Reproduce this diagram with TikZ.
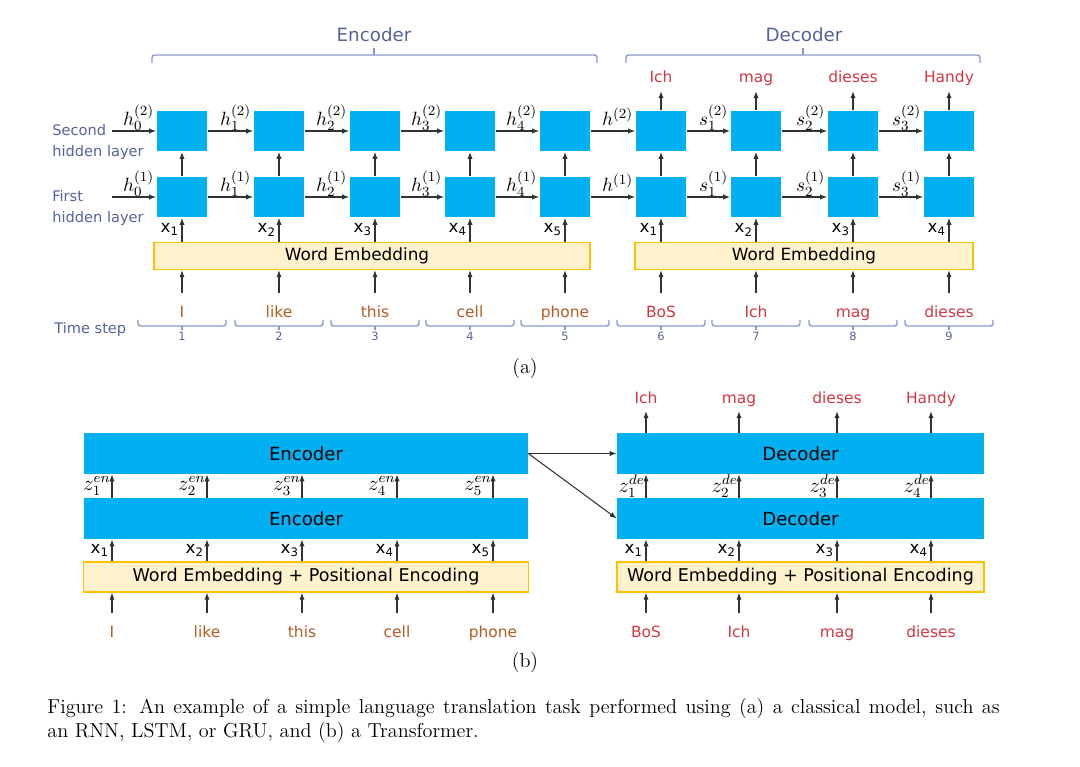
\documentclass[tikz,border=0pt]{standalone}
\usepackage{fontspec}
\newfontfamily\diagfont{DejaVu Sans}
\usetikzlibrary{arrows.meta, calc}

\definecolor{cellblue}{RGB}{0,176,240}
\definecolor{embfill}{RGB}{255,242,204}
\definecolor{embdraw}{RGB}{255,192,0}
\definecolor{slate}{RGB}{86,98,158}
\definecolor{bracecol}{RGB}{140,152,200}
\definecolor{brownw}{RGB}{178,92,32}
\definecolor{redw}{RGB}{210,55,65}
\definecolor{arrgray}{RGB}{50,50,50}

\tikzset{
  cell/.style={fill=cellblue, minimum width=1.02cm, minimum height=0.82cm, inner sep=0},
  wide/.style={fill=cellblue, minimum height=0.82cm, inner sep=0, font=\diagfont\fontsize{10.3}{12}\selectfont},
  embed/.style={fill=embfill, draw=embdraw, line width=0.8pt, inner sep=0, font=\diagfont\fontsize{10}{12}\selectfont},
  embtext/.style={inner sep=0, font=\diagfont\fontsize{9.6}{12}\selectfont},
  arr/.style={-{Latex[length=4pt,width=3pt]}, draw=arrgray, line width=0.6pt},
  brace/.style={draw=bracecol, line width=0.8pt, rounded corners=1.5pt},
  hlab/.style={inner sep=0.5pt, anchor=base east, font=\fontsize{11}{13}\selectfont},
  zlab/.style={inner sep=0.5pt, font=\fontsize{12}{14}\selectfont},
  xlab/.style={inner sep=1.5pt, font=\diagfont\fontsize{9.5}{11}\selectfont},
  inword/.style={anchor=base, text height=7pt, text depth=2pt, inner sep=2pt, outer sep=4.6pt, font=\diagfont\fontsize{8.8}{10}\selectfont},
  outword/.style={anchor=base, text height=7pt, text depth=2pt, inner sep=2pt, outer sep=0.6pt, text=redw, font=\diagfont\fontsize{8.8}{10}\selectfont},
  side/.style={text=slate, inner sep=0, align=left, font=\diagfont\fontsize{8.3}{11.8}\selectfont},
  head/.style={text=slate, inner sep=0, font=\diagfont\fontsize{10.4}{12}\selectfont},
  stepnum/.style={text=slate, inner sep=0, font=\diagfont\fontsize{6.5}{8}\selectfont},
  sublab/.style={inner sep=0, font=\fontsize{11.5}{13}\selectfont},
}

\begin{document}
\begin{tikzpicture}[x=0.02cm, y=-0.02cm]
\useasboundingbox (0,0) rectangle (1080,767);

% (a) encoder / decoder braces
\draw[brace] (152,63) -- (152,55) -- (597,55) -- (597,63);
\draw[brace] (374,55) -- (374,48);
\node[head] (enclab) at (374,35) {Encoder};
\draw[brace] (626,63) -- (626,55) -- (980,55) -- (980,63);
\draw[brace] (803,55) -- (803,48);
\node[head] (declab) at (804,35) {Decoder};

% (a) recurrent cells
\foreach \i/\x in {1/182,2/279,3/375,4/470,5/565,6/661,7/756,8/853,9/949}
{
  \node[cell] (t\i) at (\x,131) {};
  \node[cell] (b\i) at (\x,197) {};
  \draw[arr] (b\i) -- (t\i);
  % time step
  \draw[brace] (\x-44,320) -- (\x-44,326) -- (\x+44,326) -- (\x+44,320);
  \draw[brace] (\x,326) -- (\x,330);
  \node[stepnum] (n\i) at (\x,336) {\i};
}
\coordinate (t0) at (112,131);
\coordinate (b0) at (112,197);

\foreach \j/\lab in {1/h_0,2/h_1,3/h_2,4/h_3,5/h_4,6/h,7/s_1,8/s_2,9/s_3}
{
  \pgfmathtruncatemacro\prev{\j-1}
  \draw[arr] (t\prev) -- (t\j);
  \draw[arr] (b\prev) -- (b\j);
  \node[hlab] (ht\j) at ([shift={(-0.5pt,3pt)}]t\j.west) {$\lab^{(2)}$};
  \node[hlab] (hb\j) at ([shift={(-0.5pt,3pt)}]b\j.west) {$\lab^{(1)}$};
}

\node[side, anchor=west] (lay2) at (52,142) {Second\\hidden layer};
\node[side, anchor=west] (lay1) at (52,208) {First\\hidden layer};
\node[side, anchor=west] (tstep) at (54,329) {Time step};

% (a) outputs
\foreach \i/\w in {6/Ich,7/mag,8/dieses,9/Handy}
{
  \node[outword] (o\i) at (t\i |- 0,83) {\w};
  \draw[arr] (t\i) -- (o\i);
}

% (a) word embeddings
\node[embed, minimum width=8.72cm, minimum height=0.54cm] (embA) at (372,256) {};
\node[embtext] (embAt) at (357,256) {Word Embedding};
\node[embed, minimum width=6.76cm, minimum height=0.54cm, font=\diagfont\fontsize{9.6}{12}\selectfont] (embB) at (804,256) {Word Embedding};

\foreach \i/\w in {1/I,2/like,3/this,4/cell,5/phone}
{
  \node[inword, text=brownw] (w\i) at (b\i |- 0,317) {\w};
  \draw[arr] (w\i) -- (w\i |- embA.south);
  \draw[arr] (b\i |- embA.north) -- node[xlab, left] (xa\i) {x\textsubscript{\i}} (b\i);
}
\foreach \i/\w/\k in {6/BoS/1,7/Ich/2,8/mag/3,9/dieses/4}
{
  \node[inword, text=redw] (w\i) at (b\i |- 0,317) {\w};
  \draw[arr] (w\i) -- (w\i |- embB.south);
  \draw[arr] (b\i |- embB.north) -- node[xlab, left] (xa\i) {x\textsubscript{\k}} (b\i);
}

\node[sublab] (suba) at (525,368) {(a)};

% (b) transformer
\node[wide, minimum width=8.88cm] (encT) at (306,453.5) {Encoder};
\node[wide, minimum width=8.88cm] (encB) at (306,518.5) {Encoder};
\node[embed, minimum width=8.9cm, minimum height=0.6cm] (embE) at (306,577) {Word Embedding + Positional Encoding};
\node[wide, minimum width=7.34cm] (decT) at (800.5,453.5) {Decoder};
\node[wide, minimum width=7.34cm] (decB) at (800.5,518.5) {Decoder};
\node[embed, minimum width=7.34cm, minimum height=0.6cm] (embD) at (800.5,577) {Word Embedding + Positional Encoding};

\foreach \i/\x/\w in {1/112/I,2/207/like,3/302/this,4/397/cell,5/493/phone}
{
  \node[inword, text=brownw] (v\i) at (\x,637) {\w};
  \draw[arr] (v\i) -- (v\i |- embE.south);
  \draw[arr] (v\i |- embE.north) -- node[xlab, left] (xe\i) {x\textsubscript{\i}} (v\i |- encB.south);
  \draw[arr] (v\i |- encB.north) -- node[zlab, left] (ze\i) {$z_{\i}^{en}$} (v\i |- encT.south);
}
\foreach \i/\x/\w/\o in {1/646/BoS/Ich,2/739/Ich/mag,3/837/mag/dieses,4/931/dieses/Handy}
{
  \node[inword, text=redw] (d\i) at (\x,637) {\w};
  \draw[arr] (d\i) -- (d\i |- embD.south);
  \draw[arr] (d\i |- embD.north) -- node[xlab, left] (xd\i) {x\textsubscript{\i}} (d\i |- decB.south);
  \draw[arr] (d\i |- decB.north) -- node[zlab, left] (zd\i) {$z_{\i}^{de}$} (d\i |- decT.south);
  \node[outword] (u\i) at (\x,403) {\o};
  \draw[arr] (u\i |- decT.north) -- (u\i);
}
\draw[arr] (encT.east) -- (decT.west);
\draw[arr] (encT.east) -- (decB.west);

\node[sublab] (subb) at (525,662) {(b)};

% caption
\node[anchor=base west, inner sep=0, font=\fontsize{11.5}{13.6}\selectfont] (cap1) at (47,713)
  {\makebox[542pt][s]{Figure 1: An example of a simple language translation task performed using (a) a classical model, such as}};
\node[anchor=base west, inner sep=0, font=\fontsize{11.5}{13.6}\selectfont] (cap2) at (47,737)
  {an RNN, LSTM, or GRU, and (b) a Transformer.};
\end{tikzpicture}
\end{document}
